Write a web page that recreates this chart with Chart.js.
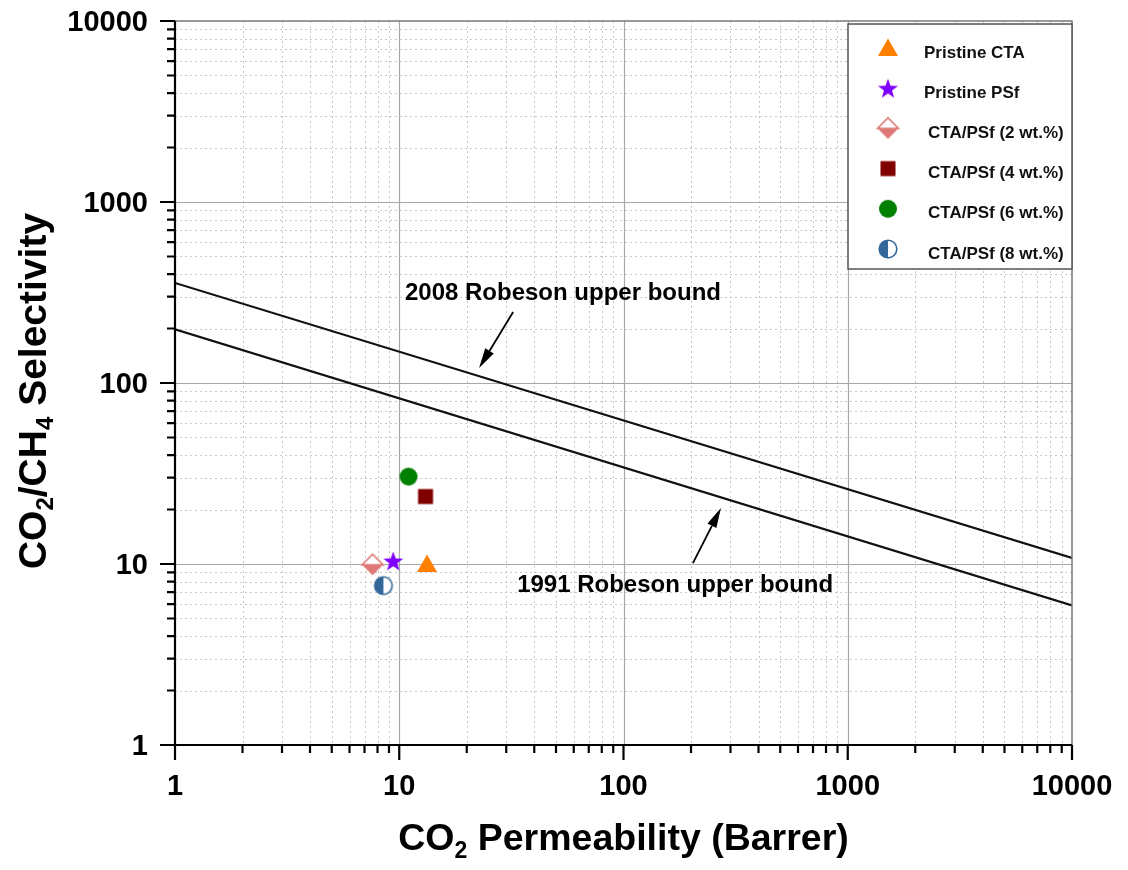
<!DOCTYPE html>
<html>
<head>
<meta charset="utf-8">
<script src="https://cdn.jsdelivr.net/npm/chart.js@4.4.1/dist/chart.umd.min.js"></script>
<style>
  body { margin: 0; background: #fff; }
</style>
</head>
<body>
<canvas id="myChart" width="1128" height="870"></canvas>
<script>
// membrane samples
const sampleNames = ['Pristine CTA', 'Pristine PSf', 'CTA/PSf (2 wt.%)', 'CTA/PSf (4 wt.%)', 'CTA/PSf (6 wt.%)', 'CTA/PSf (8 wt.%)'];
const permeability = [13.3, 9.4, 7.6, 13.1, 11.0, 8.5];
const selectivity = [10.0, 10.4, 9.9, 23.6, 30.4, 7.6];
const markerShapes = ['triangle', 'star', 'halfDiamond', 'square', 'circle', 'halfCircle'];
const markerColors = ['#ff7f00', '#8000ff', '#e07878', '#800000', '#008000', '#336699'];

// Robeson upper bounds, end points at P = 1 and P = 10000
const boundP = [1, 10000];
const bound2008 = [357, 10.8];
const bound1991 = [198, 5.9];

const xTicks = [1, 10, 100, 1000, 10000];
const yTicks = [1, 10, 100, 1000, 10000];

// labels and arrows for the bounds: [text, textX, textY, fromX, fromY, toX, toY]
const boundNotes = [
  ['2008 Robeson upper bound', 53.7, 314, 32.2, 247, 22.7, 121],
  ['1991 Robeson upper bound', 170, 7.6, 204, 10.1, 272, 20.4],
];

const FONT = '"Liberation Sans", Arial, sans-serif';

function drawShape(g, shape, color, cx, cy) {
  g.fillStyle = color;
  g.strokeStyle = color;
  g.lineWidth = 1.6;
  g.beginPath();
  if (shape === 'triangle') {
    g.moveTo(cx, cy - 9.5);
    g.lineTo(cx + 10, cy + 8);
    g.lineTo(cx - 10, cy + 8);
    g.closePath();
    g.fill();
  } else if (shape === 'star') {
    for (let k = 0; k < 10; k++) {
      const r = k % 2 === 0 ? 10.5 : 4.3;
      const a = -Math.PI / 2 + k * Math.PI / 5;
      g.lineTo(cx + r * Math.cos(a), cy + r * Math.sin(a) + 1);
    }
    g.closePath();
    g.fill();
  } else if (shape === 'halfDiamond') {
    const h = 10.5;
    g.moveTo(cx - h, cy); g.lineTo(cx, cy + h); g.lineTo(cx + h, cy); g.closePath();
    g.fill();
    g.beginPath();
    g.moveTo(cx - h, cy); g.lineTo(cx, cy - h); g.lineTo(cx + h, cy); g.closePath();
    g.fillStyle = '#fff';
    g.fill();
    g.stroke();
  } else if (shape === 'square') {
    g.rect(cx - 7.5, cy - 7.5, 15, 15);
    g.fill();
  } else if (shape === 'circle') {
    g.arc(cx, cy, 9, 0, Math.PI * 2);
    g.fill();
  } else if (shape === 'halfCircle') {
    g.arc(cx, cy, 8.8, 0, Math.PI * 2);
    g.fillStyle = '#fff';
    g.fill();
    g.beginPath();
    g.arc(cx, cy, 8.8, Math.PI / 2, Math.PI * 1.5);
    g.closePath();
    g.fillStyle = color;
    g.fill();
    g.beginPath();
    g.arc(cx, cy, 8.8, 0, Math.PI * 2);
    g.stroke();
  }
}

function makeMarker(shape, color) {
  const c = document.createElement('canvas');
  c.width = 26;
  c.height = 26;
  drawShape(c.getContext('2d'), shape, color, 13, 13);
  return c;
}

// text with subscript parts, centred on (x, y)
function drawSubText(ctx, parts, x, y, size) {
  const big = 'bold ' + size + 'px ' + FONT;
  const small = 'bold ' + Math.round(size * 0.62) + 'px ' + FONT;
  let w = 0;
  parts.forEach(p => { ctx.font = p[1] ? small : big; w += ctx.measureText(p[0]).width; });
  let cx = x - w / 2;
  ctx.textAlign = 'left';
  ctx.textBaseline = 'middle';
  parts.forEach(p => {
    ctx.font = p[1] ? small : big;
    ctx.fillText(p[0], cx, p[1] ? y + size * 0.3 : y);
    cx += ctx.measureText(p[0]).width;
  });
}

const frame = {
  id: 'frame',
  beforeDatasetsDraw(chart) {
    const { ctx, chartArea: a, scales: { x, y } } = chart;
    ctx.save();
    // grid
    for (let d = 1; d <= 10000; d *= 10) {
      for (let m = 1; m <= 9; m++) {
        const v = d * m;
        if (v <= 1 || v >= 10000) continue;
        const px = Math.round(x.getPixelForValue(v)) + 0.5;
        const py = Math.round(y.getPixelForValue(v)) + 0.5;
        ctx.beginPath();
        if (m === 1) {
          ctx.setLineDash([]);
          ctx.strokeStyle = '#a8a8a8';
          ctx.lineWidth = 1.2;
        } else {
          ctx.setLineDash([2, 3]);
          ctx.strokeStyle = '#c8c8c8';
          ctx.lineWidth = 1;
        }
        ctx.moveTo(px, a.top); ctx.lineTo(px, a.bottom);
        ctx.moveTo(a.left, py); ctx.lineTo(a.right, py);
        ctx.stroke();
      }
    }
    ctx.setLineDash([]);
    ctx.restore();
  },
  afterDatasetsDraw(chart) {
    const { ctx, chartArea: a, scales: { x, y } } = chart;
    ctx.save();
    // top and right frame
    ctx.strokeStyle = '#7a7a7a';
    ctx.lineWidth = 1.5;
    ctx.beginPath();
    ctx.moveTo(a.left, a.top); ctx.lineTo(a.right, a.top); ctx.lineTo(a.right, a.bottom);
    ctx.stroke();
    // left and bottom axes with ticks
    ctx.strokeStyle = '#000';
    ctx.lineWidth = 2.2;
    ctx.beginPath();
    ctx.moveTo(a.left, a.top); ctx.lineTo(a.left, a.bottom); ctx.lineTo(a.right, a.bottom);
    for (let d = 1; d <= 10000; d *= 10) {
      for (let m = 1; m <= 9; m++) {
        const v = d * m;
        if (v > 10000) continue;
        const len = m === 1 ? 15 : 8;
        const px = x.getPixelForValue(v);
        const py = y.getPixelForValue(v);
        ctx.moveTo(px, a.bottom); ctx.lineTo(px, a.bottom + len);
        ctx.moveTo(a.left, py); ctx.lineTo(a.left - len, py);
      }
    }
    ctx.stroke();

    // tick labels
    ctx.fillStyle = '#000';
    ctx.font = 'bold 29px ' + FONT;
    ctx.textBaseline = 'alphabetic';
    ctx.textAlign = 'center';
    x.ticks.forEach(t => ctx.fillText(String(t.value), x.getPixelForValue(t.value), a.bottom + 50));
    ctx.textAlign = 'right';
    y.ticks.forEach(t => ctx.fillText(String(t.value), a.left - 27, y.getPixelForValue(t.value) + 10));

    // bound labels and arrows
    ctx.font = 'bold 24px ' + FONT;
    ctx.textAlign = 'center';
    ctx.textBaseline = 'middle';
    boundNotes.forEach(n => {
      ctx.fillText(n[0], x.getPixelForValue(n[1]), y.getPixelForValue(n[2]));
      const x0 = x.getPixelForValue(n[3]), y0 = y.getPixelForValue(n[4]);
      const x1 = x.getPixelForValue(n[5]), y1 = y.getPixelForValue(n[6]);
      const ang = Math.atan2(y1 - y0, x1 - x0);
      const hl = 20, hw = 5;
      const bx = x1 - hl * Math.cos(ang), by = y1 - hl * Math.sin(ang);
      ctx.lineWidth = 1.8;
      ctx.beginPath();
      ctx.moveTo(x0, y0); ctx.lineTo(bx, by);
      ctx.stroke();
      ctx.beginPath();
      ctx.moveTo(x1, y1);
      ctx.lineTo(bx + hw * Math.sin(ang), by - hw * Math.cos(ang));
      ctx.lineTo(bx - hw * Math.sin(ang), by + hw * Math.cos(ang));
      ctx.closePath();
      ctx.fill();
    });
    ctx.restore();
  },
  afterDraw(chart) {
    const { ctx, chartArea: a } = chart;
    ctx.save();
    ctx.fillStyle = '#000';
    // axis titles
    drawSubText(ctx, [['CO', false], ['2', true], [' Permeability (Barrer)', false]], (a.left + a.right) / 2, 840, 37.5);
    ctx.translate(35, 391);
    ctx.rotate(-Math.PI / 2);
    drawSubText(ctx, [['CO', false], ['2', true], ['/CH', false], ['4', true], [' Selectivity', false]], 0, 0, 39);
    ctx.restore();

    // legend box
    ctx.save();
    const lx = a.right - 224, ly = a.top + 3;
    ctx.fillStyle = '#fff';
    ctx.fillRect(lx, ly, 224, 245);
    ctx.strokeStyle = '#555';
    ctx.lineWidth = 1.5;
    ctx.strokeRect(lx, ly, 224, 245);
    ctx.font = 'bold 17px ' + FONT;
    ctx.textAlign = 'left';
    ctx.textBaseline = 'middle';
    sampleNames.forEach((name, i) => {
      const my = ly + 24 + i * 40.2;
      ctx.drawImage(markerImgs[i], lx + 40 - 13, my - 13);
      ctx.fillStyle = '#111';
      ctx.fillText(name, lx + (i < 2 ? 76 : 80), my + 5);
    });
    ctx.restore();
  }
};

const markerImgs = markerShapes.map((s, i) => makeMarker(s, markerColors[i]));

// setup data block
const scatterSets = sampleNames.map((name, i) => ({
  type: 'scatter',
  label: name,
  data: [{ x: permeability[i], y: selectivity[i] }],
  pointStyle: markerImgs[i],
  pointRadius: 10,
}));

const boundSet = (label, vals) => ({
  type: 'line',
  label: label,
  data: boundP.map((p, i) => ({ x: p, y: vals[i] })),
  borderColor: '#111',
  borderWidth: 2.2,
  pointRadius: 0,
  fill: false,
});

const gdata = {
  datasets: [...scatterSets, boundSet('2008 upper bound', bound2008), boundSet('1991 upper bound', bound1991)],
};

// config block
const config = {
  type: 'scatter',
  data: gdata,
  plugins: [frame],
  options: {
    responsive: false,
    animation: false,
    layout: { padding: { top: 21, right: 56, left: 0, bottom: 0 } },
    plugins: { legend: { display: false }, tooltip: { enabled: false } },
    scales: {
      x: {
        type: 'logarithmic',
        position: 'bottom',
        min: 1,
        max: 10000,
        grid: { display: false, drawTicks: false },
        border: { display: false },
        afterBuildTicks: s => { s.ticks = xTicks.map(v => ({ value: v })); },
        afterFit: s => { s.height = 125; },
        ticks: { display: false },
      },
      y: {
        type: 'logarithmic',
        min: 1,
        max: 10000,
        grid: { display: false, drawTicks: false },
        border: { display: false },
        afterBuildTicks: s => { s.ticks = yTicks.map(v => ({ value: v })); },
        afterFit: s => { s.width = 175; },
        ticks: { display: false },
      },
    },
  },
};

// render block
const myChart = new Chart(document.getElementById('myChart'), config);
</script>
</body>
</html>
